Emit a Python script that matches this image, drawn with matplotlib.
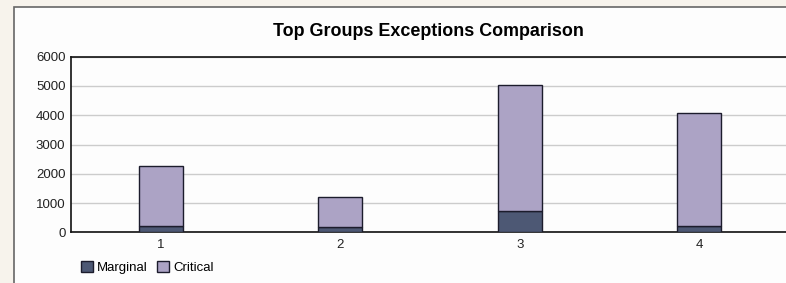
import matplotlib.pyplot as plt
from matplotlib.patches import Rectangle

groups = ["1", "2", "3", "4"]
marginal = [225, 190, 730, 225]
critical = [2050, 1005, 4315, 3850]
yticks = [0, 1000, 2000, 3000, 4000, 5000, 6000]

plt.rcParams["font.family"] = ["Liberation Sans", "DejaVu Sans"]

fig = plt.figure(figsize=(7.86, 2.83), dpi=100)
fig.patch.set_facecolor("#f7f3ec")

# white panel with grey frame, running off the right/bottom edge
panel = Rectangle((14 / 786, -0.1), 1.0, (283 - 7) / 283 + 0.1, transform=fig.transFigure,
                  facecolor="#fdfdfd", edgecolor="#666666", linewidth=1.2, zorder=-5)
fig.patches.append(panel)

ax = fig.add_axes([71 / 786, (283 - 232.3) / 283, 718 / 786, 175.6 / 283])
ax.set_facecolor("#fdfdfd")

x = range(1, len(groups) + 1)
ax.bar(x, marginal, width=0.245, color="#4d5874", edgecolor="#1c1c2c", linewidth=1,
       label="Marginal", zorder=3)
ax.bar(x, critical, width=0.245, bottom=marginal, color="#aca3c5", edgecolor="#1c1c2c",
       linewidth=1, label="Critical", zorder=3)

ax.set_xlim(0.5, 4.5)
ax.set_ylim(0, 6000)
ax.set_xticks(list(x))
ax.set_xticklabels(groups)
ax.set_yticks(yticks)
ax.tick_params(axis="y", labelsize=9.5, length=0, pad=4, colors="#222222")
ax.tick_params(axis="x", labelsize=9.5, length=0, pad=5, colors="#222222")
ax.grid(axis="y", color="#cccccc", linewidth=1, zorder=0)
for s in ["left", "bottom", "top"]:
    ax.spines[s].set_color("#111111")
    ax.spines[s].set_linewidth(1.2)
ax.spines["right"].set_visible(False)

fig.text(428 / 786, 1 - 31 / 283, "Top Groups Exceptions Comparison", ha="center",
         va="center", fontsize=12.9, fontweight="bold")

fig.legend(loc="lower left", bbox_to_anchor=(72 / 786, 0), ncol=2, frameon=False,
           fontsize=9.5, handlelength=0.9, handleheight=0.9, handletextpad=0.3,
           columnspacing=0.7, borderpad=0.2)

plt.savefig("out.png", dpi=100, facecolor=fig.get_facecolor())
